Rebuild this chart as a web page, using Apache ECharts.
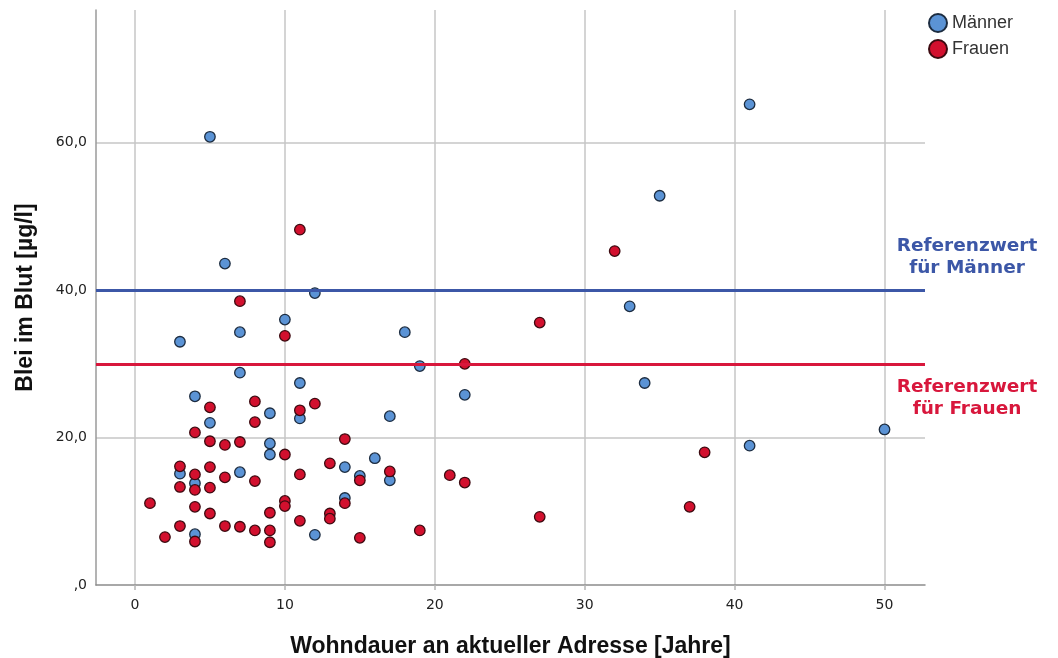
<!DOCTYPE html>
<html>
<head>
<meta charset="utf-8">
<script src="https://cdn.jsdelivr.net/npm/echarts@6/dist/echarts.min.js"></script>
<style>
  html, body { margin: 0; padding: 0; background: #ffffff; }
  #chart { width: 1058px; height: 658px; }
</style>
</head>
<body>
<div id="chart"></div>
<script>
// Blutbleiwerte nach Wohndauer: [Jahre an aktueller Adresse, Blei im Blut µg/l]
const maenner = [
  [5, 60.8], [41, 65.2], [35, 52.8], [6, 43.6], [12, 39.6], [10, 36.0],
  [7, 34.3], [3, 33.0], [18, 34.3], [33, 37.8], [19, 29.7], [7, 28.8],
  [11, 27.4], [34, 27.4], [22, 25.8], [4, 25.6], [9, 23.3], [11, 22.6],
  [5, 22.0], [17, 22.9], [50, 21.1], [41, 18.9], [9, 19.2], [9, 17.7],
  [16, 17.2], [14, 16.0], [3, 15.1], [7, 15.3], [4, 13.8], [15, 14.8],
  [17, 14.2], [14, 11.8], [4, 6.9], [12, 6.8]
];

const frauen = [
  [11, 48.2], [32, 45.3], [7, 38.5], [27, 35.6], [10, 33.8], [22, 30.0],
  [5, 24.1], [8, 24.9], [11, 23.7], [12, 24.6], [8, 22.1], [4, 20.7],
  [14, 19.8], [5, 19.5], [6, 19.0], [7, 19.4], [10, 17.7], [38, 18.0],
  [13, 16.5], [3, 16.1], [5, 16.0], [4, 15.0], [6, 14.6], [11, 15.0],
  [17, 15.4], [21, 14.9], [8, 14.1], [15, 14.2], [22, 13.9], [3, 13.3],
  [5, 13.2], [4, 12.9], [1, 11.1], [14, 11.1], [10, 11.4], [10, 10.7],
  [4, 10.6], [37, 10.6], [5, 9.7], [9, 9.8], [13, 9.7], [27, 9.25],
  [13, 9.0], [11, 8.7], [3, 8.0], [6, 8.0], [7, 7.9], [8, 7.4],
  [9, 7.4], [19, 7.4], [2, 6.5], [15, 6.4], [4, 5.9], [9, 5.8]
];

// Referenzwerte (µg/l) und ihre Beschriftungen
const referenzMaenner = 40;
const referenzFrauen = 30;
const referenzLabelMaenner = 'Referenzwert\nfür Männer';
const referenzLabelFrauen = 'Referenzwert\nfür Frauen';

// Achsenbereiche und Beschriftungen
const xRange = [-2.6, 52.7];
const yRange = [0, 78];
const xTickStep = 10;
const yTickStep = 20;
const xTitle = 'Wohndauer an aktueller Adresse [Jahre]';
const yTitle = 'Blei im Blut [µg/l]';
const seriesNames = ['Männer', 'Frauen'];

const BLUE = '#5b93d5';
const RED = '#d2102e';
const REF_BLUE = '#3c57a7';
const REF_RED = '#d8173c';
const GRID_GRAY = '#c6c6c6';

const tickFont = { fontFamily: 'DejaVu Sans', fontSize: 14, color: '#222' };
const titleFont = { fontFamily: 'Liberation Sans', fontWeight: 'bold', fontSize: 23, color: '#111' };
const refLabelFont = { fontFamily: 'DejaVu Sans', fontWeight: 'bold', fontSize: 18.5, lineHeight: 22 };

function fmtY(v) {
  if (v % yTickStep !== 0) return '';
  if (v === 0) return ',0';
  return v.toFixed(1).replace('.', ',');
}
function fmtX(v) {
  return (Number.isInteger(v) && v % xTickStep === 0) ? String(v) : '';
}

const chart = echarts.init(document.getElementById('chart'), null, { renderer: 'canvas' });

chart.setOption({
  animation: false,
  backgroundColor: '#ffffff',
  grid: { left: 96, right: 133, top: 10, bottom: 73, containLabel: false, outerBoundsMode: 'none' },
  legend: {
    orient: 'vertical',
    left: 923,
    top: 8,
    itemWidth: 18,
    itemHeight: 18,
    itemGap: 6,
    icon: 'circle',
    data: seriesNames,
    textStyle: { fontFamily: 'Liberation Sans', fontSize: 18, color: '#333' }
  },
  xAxis: {
    type: 'value',
    min: xRange[0],
    max: xRange[1],
    minInterval: xTickStep,
    maxInterval: xTickStep,
    name: xTitle,
    nameLocation: 'middle',
    nameGap: 50,
    nameTextStyle: titleFont,
    axisLine: { show: true, onZero: false, lineStyle: { color: '#8c8c8c', width: 1.5 } },
    axisTick: { show: true, length: 5, lineStyle: { color: '#b5b5b5', width: 1.5 } },
    axisLabel: Object.assign({ margin: 13, showMinLabel: false, showMaxLabel: false, formatter: fmtX }, tickFont),
    splitLine: { show: true, showMinLine: false, showMaxLine: false, lineStyle: { color: GRID_GRAY, width: 1.5 } }
  },
  yAxis: {
    type: 'value',
    min: yRange[0],
    max: yRange[1],
    minInterval: yTickStep,
    maxInterval: yTickStep,
    name: yTitle,
    nameLocation: 'middle',
    nameGap: 59,
    nameTextStyle: titleFont,
    axisLine: { show: true, onZero: false, lineStyle: { color: '#9a9a9a', width: 1.5 } },
    axisTick: { show: false },
    axisLabel: Object.assign({ margin: 9, showMinLabel: true, showMaxLabel: false, formatter: fmtY }, tickFont),
    splitLine: { show: true, showMinLine: false, showMaxLine: false, lineStyle: { color: GRID_GRAY, width: 1.5 } }
  },
  series: [
    {
      type: 'line',
      data: [],
      z: 2,
      silent: true,
      markLine: {
        silent: true,
        symbol: 'none',
        animation: false,
        data: [
          {
            yAxis: referenzMaenner,
            lineStyle: { color: REF_BLUE, width: 3, type: 'solid' },
            label: Object.assign({
              show: true, position: 'insideEndTop', formatter: referenzLabelMaenner,
              align: 'center', distance: [-42, 11], color: REF_BLUE
            }, refLabelFont)
          },
          {
            yAxis: referenzFrauen,
            lineStyle: { color: REF_RED, width: 3, type: 'solid' },
            label: Object.assign({
              show: true, position: 'insideEndBottom', formatter: referenzLabelFrauen,
              align: 'center', distance: [-42, 12], color: REF_RED
            }, refLabelFont)
          }
        ]
      }
    },
    {
      name: seriesNames[0],
      type: 'scatter',
      data: maenner,
      symbol: 'circle',
      symbolSize: 10.5,
      z: 3,
      itemStyle: { color: BLUE, borderColor: '#1c2c40', borderWidth: 1.3, opacity: 1 }
    },
    {
      name: seriesNames[1],
      type: 'scatter',
      data: frauen,
      symbol: 'circle',
      symbolSize: 10.5,
      z: 4,
      itemStyle: { color: RED, borderColor: '#3c0a10', borderWidth: 1.3, opacity: 1 }
    }
  ]
});
</script>
</body>
</html>
